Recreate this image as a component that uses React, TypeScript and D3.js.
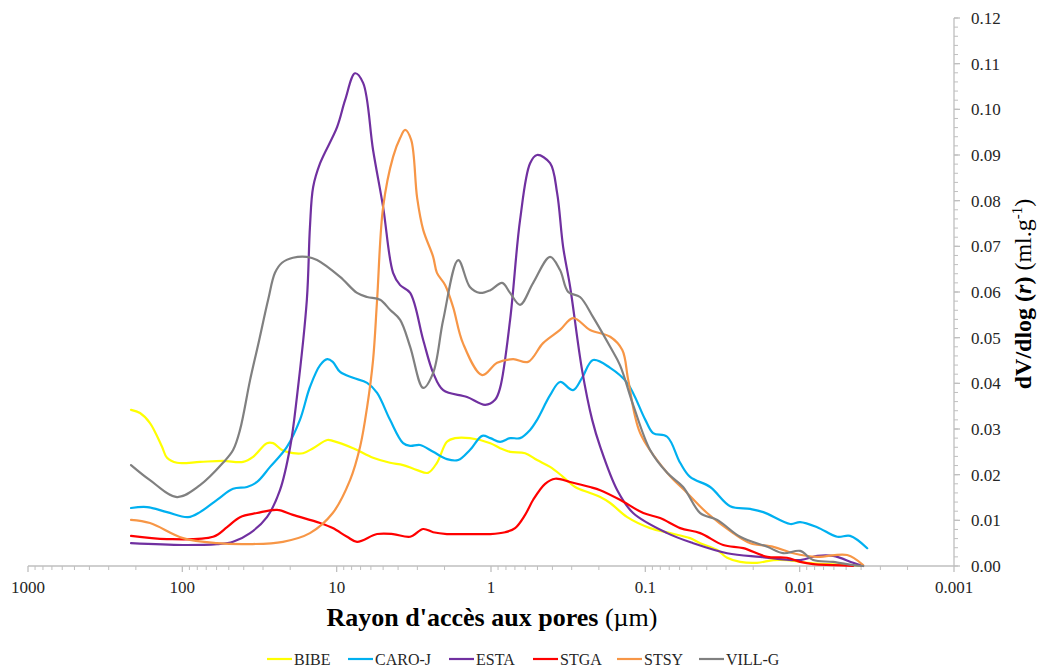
import React from 'react';
import * as d3 from 'd3';

const xTickValues = [1000, 100, 10, 1, 0.1, 0.01, 0.001];
const xTickLabels = ['1000', '100', '10', '1', '0.1', '0.01', '0.001'];
const yTickValues = [0, 0.01, 0.02, 0.03, 0.04, 0.05, 0.06, 0.07, 0.08, 0.09, 0.1, 0.11, 0.12];
const seriesNames = ['BIBE', 'CARO-J', 'ESTA', 'STGA', 'STSY', 'VILL-G'];
const seriesColors = ['#FFFF00', '#00B0F0', '#7030A0', '#FF0000', '#F79646', '#808080'];

// [pore radius (µm), dV/dlog(r) (ml/g)]
const BIBE: [number, number][] = [
  [215, 0.0342], [188, 0.0335], [162, 0.0313], [135.4, 0.0261], [125.7, 0.0237], [108.2, 0.0226],
  [76.8, 0.0228], [54.5, 0.023], [40.4, 0.0228], [34.8, 0.0239], [28.3, 0.0269], [25.8, 0.0269],
  [22.6, 0.0254], [19.2, 0.0247], [16.5, 0.0247], [14.2, 0.0258], [11.5, 0.0276], [10.6, 0.0274],
  [7.83, 0.0258], [5.81, 0.0237], [4.51, 0.0226], [3.71, 0.0221], [3.01, 0.021], [2.56, 0.0204],
  [2.24, 0.0226], [1.93, 0.0272], [1.71, 0.028], [1.37, 0.028], [1.01, 0.0269], [0.873, 0.0258],
  [0.752, 0.025], [0.601, 0.0247], [0.503, 0.0232], [0.414, 0.0217], [0.346, 0.0197], [0.285, 0.0173],
  [0.228, 0.016], [0.196, 0.0151], [0.169, 0.0138], [0.131, 0.0107], [0.0931, 0.0083], [0.0691, 0.0072],
  [0.0513, 0.0061], [0.0441, 0.005], [0.0342, 0.0035], [0.0295, 0.0018], [0.0243, 0.0009], [0.0189, 0.0007],
  [0.0148, 0.0013], [0.0121, 0.0013], [0.00894, 0.0007], [0.00663, 0.0004], [0.0045, 0.0002], [0.00388, 0],
];

const CARO_J: [number, number][] = [
  [215, 0.0127], [169.3, 0.0129], [125.7, 0.0118], [91.8, 0.0107], [76.8, 0.0118], [59.6, 0.0145],
  [46.9, 0.0169], [38.1, 0.0173], [32.8, 0.0184], [27.0, 0.0217], [21.0, 0.0261], [17.3, 0.032],
  [14.9, 0.0392], [12.8, 0.044], [11.5, 0.0453], [10.6, 0.0447], [9.5, 0.0425], [7.83, 0.0412],
  [6.35, 0.0401], [5.47, 0.0379], [4.51, 0.032], [3.71, 0.0269], [3.34, 0.0263], [2.88, 0.0265],
  [2.37, 0.025], [1.93, 0.0234], [1.63, 0.0232], [1.37, 0.0254], [1.14, 0.0285], [1.01, 0.028],
  [0.873, 0.0272], [0.752, 0.028], [0.648, 0.028], [0.558, 0.0298], [0.503, 0.032], [0.414, 0.0374],
  [0.357, 0.0403], [0.294, 0.0385], [0.257, 0.0412], [0.218, 0.0451], [0.169, 0.0434], [0.131, 0.0401],
  [0.1, 0.032], [0.089, 0.0291], [0.0722, 0.0283], [0.0595, 0.0226], [0.0513, 0.0195], [0.038, 0.0173],
  [0.0282, 0.0131], [0.0209, 0.0125], [0.0172, 0.0118], [0.0115, 0.0092], [0.00993, 0.0096], [0.0077, 0.0085],
  [0.00571, 0.0064], [0.00471, 0.0066], [0.00365, 0.0039],
];

const ESTA: [number, number][] = [
  [215, 0.005], [99, 0.0046], [59.6, 0.0048], [46.9, 0.0053], [36.4, 0.0072], [28.3, 0.0107],
  [23.3, 0.0166], [20.0, 0.0261], [18.1, 0.037], [15.6, 0.0583], [14.9, 0.0742], [14.2, 0.083],
  [12.8, 0.0882], [9.94, 0.0961], [8.82, 0.102], [7.6, 0.1079], [6.74, 0.1058], [5.81, 0.0911],
  [5.0, 0.0786], [4.31, 0.0642], [3.88, 0.0615], [3.34, 0.0598], [2.75, 0.0495], [2.37, 0.0423],
  [2.04, 0.0385], [1.43, 0.037], [1.09, 0.0353], [0.941, 0.0364], [0.873, 0.039], [0.752, 0.0539],
  [0.648, 0.0758], [0.558, 0.0882], [0.503, 0.09], [0.414, 0.0882], [0.373, 0.0817], [0.341, 0.0699],
  [0.307, 0.0611], [0.257, 0.0429], [0.221, 0.032], [0.196, 0.0261], [0.152, 0.0166], [0.12, 0.0116],
  [0.0722, 0.0072], [0.049, 0.005], [0.0295, 0.0028], [0.018, 0.002], [0.00993, 0.0013], [0.0077, 0.0022],
  [0.00607, 0.0022], [0.0045, 0.0007], [0.00388, 0],
];

const STGA: [number, number][] = [
  [215, 0.0066], [125.7, 0.0059], [63.2, 0.0064], [51.3, 0.0085], [42.3, 0.0107], [32.8, 0.0116],
  [24.3, 0.0123], [19.2, 0.0112], [12.8, 0.0094], [10.6, 0.0083], [8.56, 0.0064], [7.38, 0.0053],
  [5.47, 0.007], [4.31, 0.007], [3.34, 0.0064], [2.75, 0.0081], [2.37, 0.0074], [1.93, 0.007],
  [1.37, 0.007], [1.01, 0.007], [0.81, 0.0074], [0.698, 0.0083], [0.601, 0.0112], [0.533, 0.0145],
  [0.446, 0.018], [0.384, 0.0191], [0.307, 0.0184], [0.228, 0.0173], [0.196, 0.0166], [0.146, 0.0145],
  [0.103, 0.0116], [0.0802, 0.0105], [0.0595, 0.0083], [0.0441, 0.0072], [0.0313, 0.0046], [0.0232, 0.0039],
  [0.0162, 0.002], [0.0121, 0.0018], [0.00993, 0.0009], [0.00818, 0.0004], [0.00607, 0.0002], [0.0045, 0],
];

const STSY: [number, number][] = [
  [215, 0.0101], [162, 0.0094], [99, 0.0061], [59.6, 0.005], [36.4, 0.0048], [22.3, 0.0053],
  [14.9, 0.0072], [10.6, 0.0116], [8.19, 0.0188], [7.05, 0.0261], [6.35, 0.0348], [5.81, 0.0451],
  [5.47, 0.0583], [5.0, 0.0786], [4.31, 0.0896], [3.88, 0.0937], [3.6, 0.0955], [3.29, 0.0933],
  [3.01, 0.0806], [2.75, 0.0736], [2.37, 0.0677], [2.24, 0.0642], [1.98, 0.0615], [1.76, 0.0567],
  [1.52, 0.0488], [1.14, 0.0418], [0.913, 0.0445], [0.719, 0.0453], [0.575, 0.0447], [0.46, 0.0488],
  [0.357, 0.0517], [0.294, 0.0543], [0.228, 0.0517], [0.169, 0.0502], [0.141, 0.0473], [0.129, 0.0407],
  [0.108, 0.0291], [0.0722, 0.0204], [0.0536, 0.016], [0.0398, 0.0116], [0.027, 0.0072], [0.0209, 0.005],
  [0.0148, 0.0042], [0.011, 0.0028], [0.0077, 0.002], [0.00492, 0.0024], [0.00388, 0.0002],
];

const VILL_G: [number, number][] = [
  [215, 0.0221], [162, 0.0188], [108.2, 0.0151], [76.8, 0.0177], [54.5, 0.0226], [46.9, 0.0254],
  [42.3, 0.0298], [36.4, 0.0407], [32.3, 0.0484], [27.8, 0.0583], [25.1, 0.0642], [22.6, 0.0664],
  [19.2, 0.0675], [15.6, 0.0677], [13.4, 0.067], [9.5, 0.0633], [7.38, 0.0598], [6.35, 0.0589],
  [5.23, 0.0583], [4.51, 0.0561], [3.88, 0.0539], [3.34, 0.048], [2.75, 0.039], [2.37, 0.0423],
  [2.04, 0.0539], [1.63, 0.067], [1.37, 0.0611], [1.18, 0.0598], [1.01, 0.0604], [0.847, 0.062],
  [0.752, 0.0598], [0.648, 0.0572], [0.533, 0.062], [0.414, 0.0677], [0.357, 0.0648], [0.316, 0.06],
  [0.265, 0.0589], [0.218, 0.0545], [0.169, 0.048], [0.146, 0.044], [0.12, 0.0353], [0.0931, 0.0254],
  [0.0722, 0.0204], [0.0569, 0.0173], [0.0441, 0.0116], [0.0342, 0.0101], [0.0243, 0.0064], [0.0162, 0.0042],
  [0.0128, 0.0028], [0.00993, 0.0033], [0.00818, 0.0013], [0.00607, 0.0009], [0.0045, 0.0002], [0.00388, 0],
];

const seriesData = [BIBE, CARO_J, ESTA, STGA, STSY, VILL_G];

const W = 1041;
const H = 670;
const FONT = "'Liberation Serif', 'Times New Roman', Times, serif";
const AXIS = '#bfbfbf';

export default function App() {
  const x = d3.scaleLog().domain([1000, 0.001]).range([28, 954]);
  const y = d3.scaleLinear().domain([0, 0.12]).range([566, 18]);
  const line = d3
    .line<[number, number]>()
    .x((d) => x(d[0]))
    .y((d) => y(d[1]))
    .curve(d3.curveCatmullRom.alpha(0.5));

  const minorX: number[] = [];
  for (let e = -3; e <= 2; e++) {
    for (let k = 2; k <= 9; k++) minorX.push(k * Math.pow(10, e));
  }
  const minorY = d3.range(0, 0.1201, 0.002);

  const legendStarts = [267, 348, 449, 533, 617, 699];
  const tf = { fontFamily: FONT };

  return (
    <svg
      width={W}
      height={H}
      style={{ position: 'absolute', left: 0, top: 0, background: '#fff', fontFamily: FONT }}
    >
      <rect x={0} y={0} width={W} height={H} fill="#fff" />
      {/* x axis */}
      <line x1={x(1000)} x2={x(0.001)} y1={y(0)} y2={y(0)} stroke={AXIS} strokeWidth={1.3} />
      {minorX.map((v, i) => (
        <line key={'mx' + i} x1={x(v)} x2={x(v)} y1={y(0)} y2={y(0) + 4} stroke={AXIS} strokeWidth={1} />
      ))}
      {xTickValues.map((v, i) => (
        <g key={'xt' + i}>
          <line x1={x(v)} x2={x(v)} y1={y(0)} y2={y(0) + 6} stroke={AXIS} strokeWidth={1.3} />
          <text x={x(v)} y={593} textAnchor="middle" fontSize={17} fill="#262626" style={tf}>
            {xTickLabels[i]}
          </text>
        </g>
      ))}
      {/* y axis */}
      <line x1={x(0.001)} x2={x(0.001)} y1={y(0)} y2={y(0.12)} stroke={AXIS} strokeWidth={1.3} />
      {minorY.map((v, i) => (
        <line key={'my' + i} x1={x(0.001)} x2={x(0.001) + 4} y1={y(v)} y2={y(v)} stroke={AXIS} strokeWidth={1} />
      ))}
      {yTickValues.map((v, i) => (
        <g key={'yt' + i}>
          <line x1={x(0.001)} x2={x(0.001) + 6} y1={y(v)} y2={y(v)} stroke={AXIS} strokeWidth={1.3} />
          <text x={971} y={y(v) + 6} fontSize={17} fill="#262626" style={tf}>
            {v.toFixed(2)}
          </text>
        </g>
      ))}
      {/* series */}
      {seriesData.map((d, i) => (
        <path
          key={seriesNames[i]}
          d={line(d) || ''}
          fill="none"
          stroke={seriesColors[i]}
          strokeWidth={2.2}
          strokeLinejoin="round"
          strokeLinecap="round"
        />
      ))}
      {/* axis titles */}
      <text x={492} y={626} textAnchor="middle" fontSize={26} fill="#000" style={tf}>
        <tspan fontWeight="bold">Rayon d'accès aux pores</tspan>
        <tspan> (µm)</tspan>
      </text>
      <text transform="translate(1031,294) rotate(-90)" textAnchor="middle" fontSize={24} fill="#000" style={tf}>
        <tspan fontWeight="bold">dV/dlog (</tspan>
        <tspan fontWeight="bold" fontStyle="italic">r</tspan>
        <tspan fontWeight="bold">)</tspan>
        <tspan> (ml.g</tspan>
        <tspan fontSize={15} dy={-9}>-1</tspan>
        <tspan dy={9}>)</tspan>
      </text>
      {/* legend */}
      {seriesNames.map((n, i) => (
        <g key={'lg' + n}>
          <line
            x1={legendStarts[i]}
            x2={legendStarts[i] + 25}
            y1={659}
            y2={659}
            stroke={seriesColors[i]}
            strokeWidth={2.2}
          />
          <text x={legendStarts[i] + 27} y={665} fontSize={16} fill="#262626" style={tf}>
            {n}
          </text>
        </g>
      ))}
    </svg>
  );
}
